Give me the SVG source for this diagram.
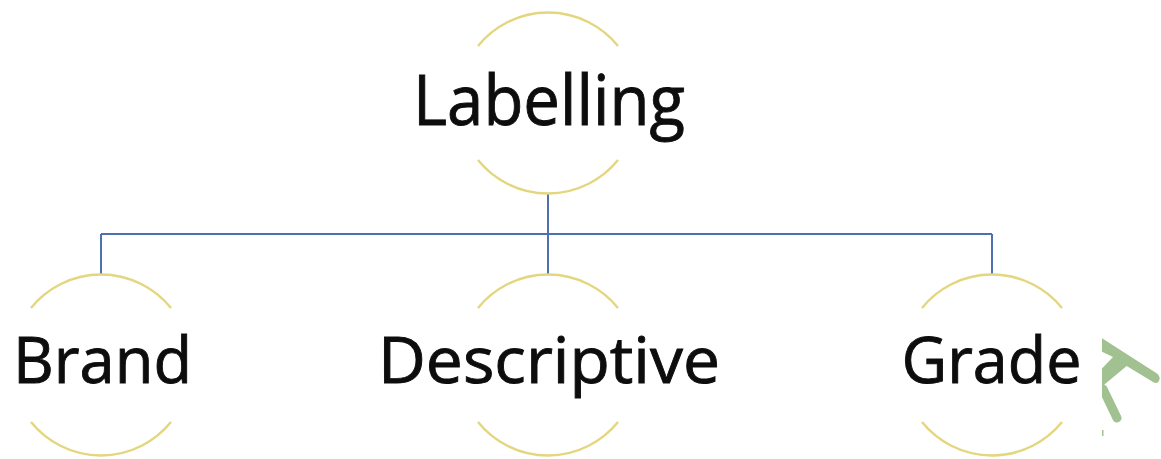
<svg xmlns="http://www.w3.org/2000/svg" width="1161" height="459" viewBox="0 0 1161 459">
  <defs>
    <style>
      .arc { fill: none; stroke: #e4d67e; stroke-width: 2.4; }
      .conn { fill: none; stroke: #4f6fae; stroke-width: 2; }
      .lbl { font-family: "Open Sans", "Noto Sans", sans-serif; fill: #0d0d0d; stroke: #0d0d0d; stroke-width: 0.9; text-anchor: middle; }
      .wm { fill: #a1c191; }
    </style>
    <clipPath id="wmclip">
      <rect x="1102" y="300" width="70" height="159"/>
    </clipPath>
  </defs>
  <rect width="1161" height="459" fill="#ffffff"/>

  <g id="connectors">
    <path class="conn" d="M548,193 V234 M101,234 H992 M101,234 V275 M548,234 V275 M992,234 V275"/>
  </g>

  <g id="node-labelling">
    <path class="arc" d="M478,46 A90,90 0 0 1 618,46"/>
    <path class="arc" d="M478,160 A90,90 0 0 0 618,160"/>
    <text class="lbl" x="549" y="125" font-size="69" textLength="272" lengthAdjust="spacingAndGlyphs">Labelling</text>
  </g>

  <g id="node-brand">
    <path class="arc" d="M31,308 A90,90 0 0 1 171,308"/>
    <path class="arc" d="M31,422 A90,90 0 0 0 171,422"/>
    <text class="lbl" x="102.5" y="383" font-size="64" textLength="179" lengthAdjust="spacingAndGlyphs">Brand</text>
  </g>

  <g id="node-descriptive">
    <path class="arc" d="M478,308 A90,90 0 0 1 618,308"/>
    <path class="arc" d="M478,422 A90,90 0 0 0 618,422"/>
    <text class="lbl" x="549" y="383" font-size="64" textLength="342" lengthAdjust="spacingAndGlyphs">Descriptive</text>
  </g>

  <g id="node-grade">
    <path class="arc" d="M922,308 A90,90 0 0 1 1062,308"/>
    <path class="arc" d="M922,422 A90,90 0 0 0 1062,422"/>
    <text class="lbl" x="991.5" y="383" font-size="64" textLength="180" lengthAdjust="spacingAndGlyphs">Grade</text>
  </g>

  <g id="watermark" clip-path="url(#wmclip)">
    <path class="wm" d="M1102,338.3 L1157,373.5 Q1161,377 1159,381 Q1157,384.5 1153,382 L1126.7,366 L1102,386.5 L1102,368.5 L1113,357 L1102,351.7 Z"/>
    <path d="M1103,389 L1117,418" stroke="#a1c191" stroke-width="9" stroke-linecap="round" fill="none"/>
    <rect class="wm" x="1101" y="430" width="2.5" height="6"/>
  </g>
</svg>
